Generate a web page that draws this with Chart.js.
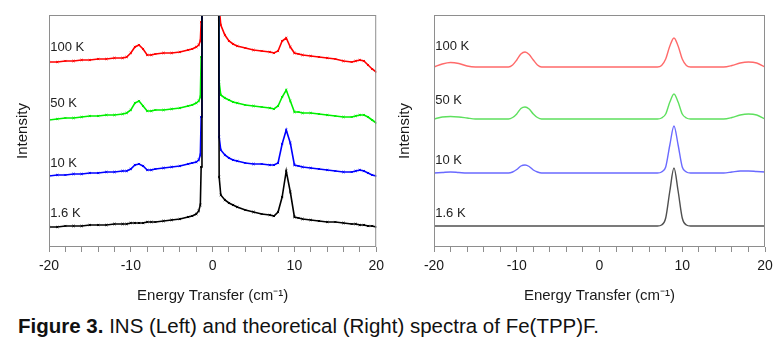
<!DOCTYPE html>
<html>
<head>
<meta charset="utf-8">
<script src="https://cdn.jsdelivr.net/npm/chart.js@4"></script>
<style>
  body { margin: 0; background: #fff; width: 780px; height: 344px; position: relative; overflow: hidden; }
  .box { position: absolute; top: 0; width: 390px; height: 306px; }
  #legenda { position: absolute; left: 18px; top: 313px; font-family: "Liberation Sans", Arial, sans-serif; font-size: 20.5px; line-height: 26px; color: #111; white-space: nowrap; }
</style>
</head>
<body>
<div class="box" style="left:0"><canvas id="graficoINS" width="390" height="306"></canvas></div>
<div class="box" style="left:390px"><canvas id="graficoTeorico" width="390" height="306"></canvas></div>
<div id="legenda"><b>Figure 3.</b> INS (Left) and theoretical (Right) spectra of Fe(TPP)F.</div>
<script>
// Energia (cm-1) - espectro INS experimental
const energiaINS = [-20,-19,-18,-17,-16,-15,-14,-13,-12,-11,
  -10.5,-10,-9.5,-9,-8.5,-8,-7.5,-7,
  -6,-5,-4,-3,
  -2.5,-2,-1.7,-1.5,-1.4,-1.3,
  0.7,0.8,1,1.5,2,2.5,3,
  4,5,6,7,7.5,8,8.5,9,9.5,10,10.5,11,
  12,13,14,15,16,17,
  17.5,18,18.5,19,19.5,20];

// Intensidade (u.a., curvas deslocadas)
const ins_1_6K = [20,20,21,21,21,22,22,22,23,23,
  23,24,24,24,24,25,25,25,
  26,27,28,30,
  31,33,36,42,80,400,
  400,70,52,47,44,42,40,
  37,35,33,32,31,35,50,76,55,30,29,28,
  27,26,25,25,24,23,
  23,22,22,21,21,20];
const ins_10K = [71,72,72,73,73,74,74,75,75,76,
  76,78,82,83,81,77,77,78,
  79,80,81,83,
  84,85,87,92,130,400,
  400,110,97,92,89,87,86,
  84,83,83,82,82,84,103,117,104,82,81,80,
  79,78,77,76,75,75,
  76,77,76,74,72,71];
const ins_50K = [127,128,129,129,130,131,131,132,132,133,
  134,137,144,146,141,136,136,137,
  137,138,139,141,
  142,144,146,150,190,400,
  400,165,152,149,147,145,144,
  142,141,140,139,138,141,150,157,146,135,135,134,
  134,133,132,131,130,130,
  131,132,132,130,127,124];
const ins_100K = [185,185,186,186,187,187,188,188,189,189,
  190,194,200,202,198,192,192,193,
  194,194,195,197,
  198,200,202,206,225,400,
  400,240,222,212,206,203,201,
  199,197,196,195,194,196,206,209,200,194,193,192,
  191,190,189,188,186,185,
  186,187,186,182,178,175];

// Energia (cm-1) - espectro teórico
const energiaTeo = [-20,-19,-18,-17,-16,-15,
  -11,-10.5,-10,-9.5,-9,-8.5,-8,-7.5,-7,
  7,7.5,8,8.5,9,9.5,10,10.5,11,
  15,16,17,18,19,20];
const teo_1_6K = [21,21,21,21,21,21,
  21,21,21,21,21,21,21,21,21,
  21,22,29,56,79,56,29,22,21,
  21,21,21,21,21,21];
const teo_10K = [74,74.5,75,74.5,74,74,
  74,75,77.5,81,82,80.5,77,75,74,
  74,75,80,102,121,102,80,75,74,
  74,75,76,76,75.5,75];
const teo_50K = [128,130,130.5,130,129,128,
  128,129.5,133,138.5,140,138,133,129.5,128,
  128,129,133,145,153,145,133,129,128,
  128,129.5,132,133,132,128];
const teo_100K = [180,183,184.5,183.5,181,180,
  180,182,187,193,195,192.5,187,182,180,
  180,181.5,188,201,209,201,188,181.5,180,
  180,181.5,184,185,184,180];

// Rótulos das temperaturas
const rotulos = ["100 K", "50 K", "10 K", "1.6 K"];
const rotulosY_INS = [200, 144, 84, 34];
const rotulosY_Teo = [201, 147, 87, 34];

const fonte = '"Liberation Sans", Arial, sans-serif';

// moldura + rótulos de temperatura
const molduraPlugin = {
  id: 'moldura',
  afterDraw(chart, args, opts) {
    const { ctx, chartArea: a, scales } = chart;
    ctx.save();
    ctx.strokeStyle = '#8e8e8e';
    ctx.lineWidth = 1;
    ctx.strokeRect(a.left + 0.5, a.top + 0.5, a.right - a.left - 1, a.bottom - a.top - 1);
    ctx.fillStyle = '#222';
    ctx.font = '13px ' + fonte;
    ctx.textAlign = 'left';
    ctx.textBaseline = 'middle';
    opts.textos.forEach((t, i) => {
      ctx.fillText(t, scales.x.getPixelForValue(opts.x), scales.y.getPixelForValue(opts.y[i]));
    });
    ctx.restore();
  }
};

function serie(xs, ys, cor, largura, marcador) {
  return {
    data: xs.map((x, i) => ({ x: x, y: ys[i] })),
    borderColor: cor,
    backgroundColor: cor,
    borderWidth: largura,
    pointRadius: marcador ? 1.5 : 0,
    pointStyle: 'crossRot',
    pointBorderWidth: 1,
    tension: 0,
    cubicInterpolationMode: marcador ? 'default' : 'monotone',
    fill: false,
  };
}

function criarGrafico(id, datasets, larguraY, padDir, tituloPad, rotY) {
  const ctx = document.getElementById(id).getContext("2d");
  return new Chart(ctx, {
    type: "line",
    data: { datasets: datasets },
    options: {
      responsive: false,
      animation: false,
      layout: { padding: { top: 15, right: padDir, left: 0, bottom: 0 } },
      plugins: {
        legend: { display: false },
        tooltip: { enabled: false },
        moldura: { textos: rotulos, x: -19.85, y: rotY },
      },
      scales: {
        x: {
          type: "linear",
          min: -20, max: 20,
          border: { display: false },
          grid: { drawOnChartArea: false, tickLength: 5, color: '#8e8e8e' },
          ticks: {
            stepSize: 2, autoSkip: false, maxRotation: 0, padding: 6,
            color: '#1a1a1a', font: { family: fonte, size: 14 },
            callback: v => (v % 10 === 0 ? String(v) : ''),
          },
          title: { display: true, text: "Energy Transfer (cm\u207B\u00B9)", color: '#1a1a1a',
                   font: { family: fonte, size: 15 }, padding: { top: 0, bottom: 1 } },
          afterFit: s => { s.height = 59; },
        },
        y: {
          min: 0, max: 232,
          border: { display: false },
          grid: { display: false },
          ticks: { display: false },
          title: { display: true, text: "Intensity", color: '#1a1a1a',
                   font: { family: fonte, size: 15 }, padding: { top: tituloPad, bottom: 0 } },
          afterFit: s => { s.width = larguraY; },
        },
      },
    },
    plugins: [molduraPlugin],
  });
}

criarGrafico("graficoINS", [
  serie(energiaINS, ins_1_6K, "#000000", 1.6, true),
  serie(energiaINS, ins_10K, "#0000ff", 1.6, true),
  serie(energiaINS, ins_50K, "#00ee00", 1.6, true),
  serie(energiaINS, ins_100K, "#ff0000", 1.6, true),
], 49, 13, 14, rotulosY_INS);

criarGrafico("graficoTeorico", [
  serie(energiaTeo, teo_1_6K, "#505050", 1.4, false),
  serie(energiaTeo, teo_10K, "#6a6aff", 1.4, false),
  serie(energiaTeo, teo_50K, "#5ee05e", 1.4, false),
  serie(energiaTeo, teo_100K, "#ff6a6a", 1.4, false),
], 44, 15, 6, rotulosY_Teo);
</script>
</body>
</html>
